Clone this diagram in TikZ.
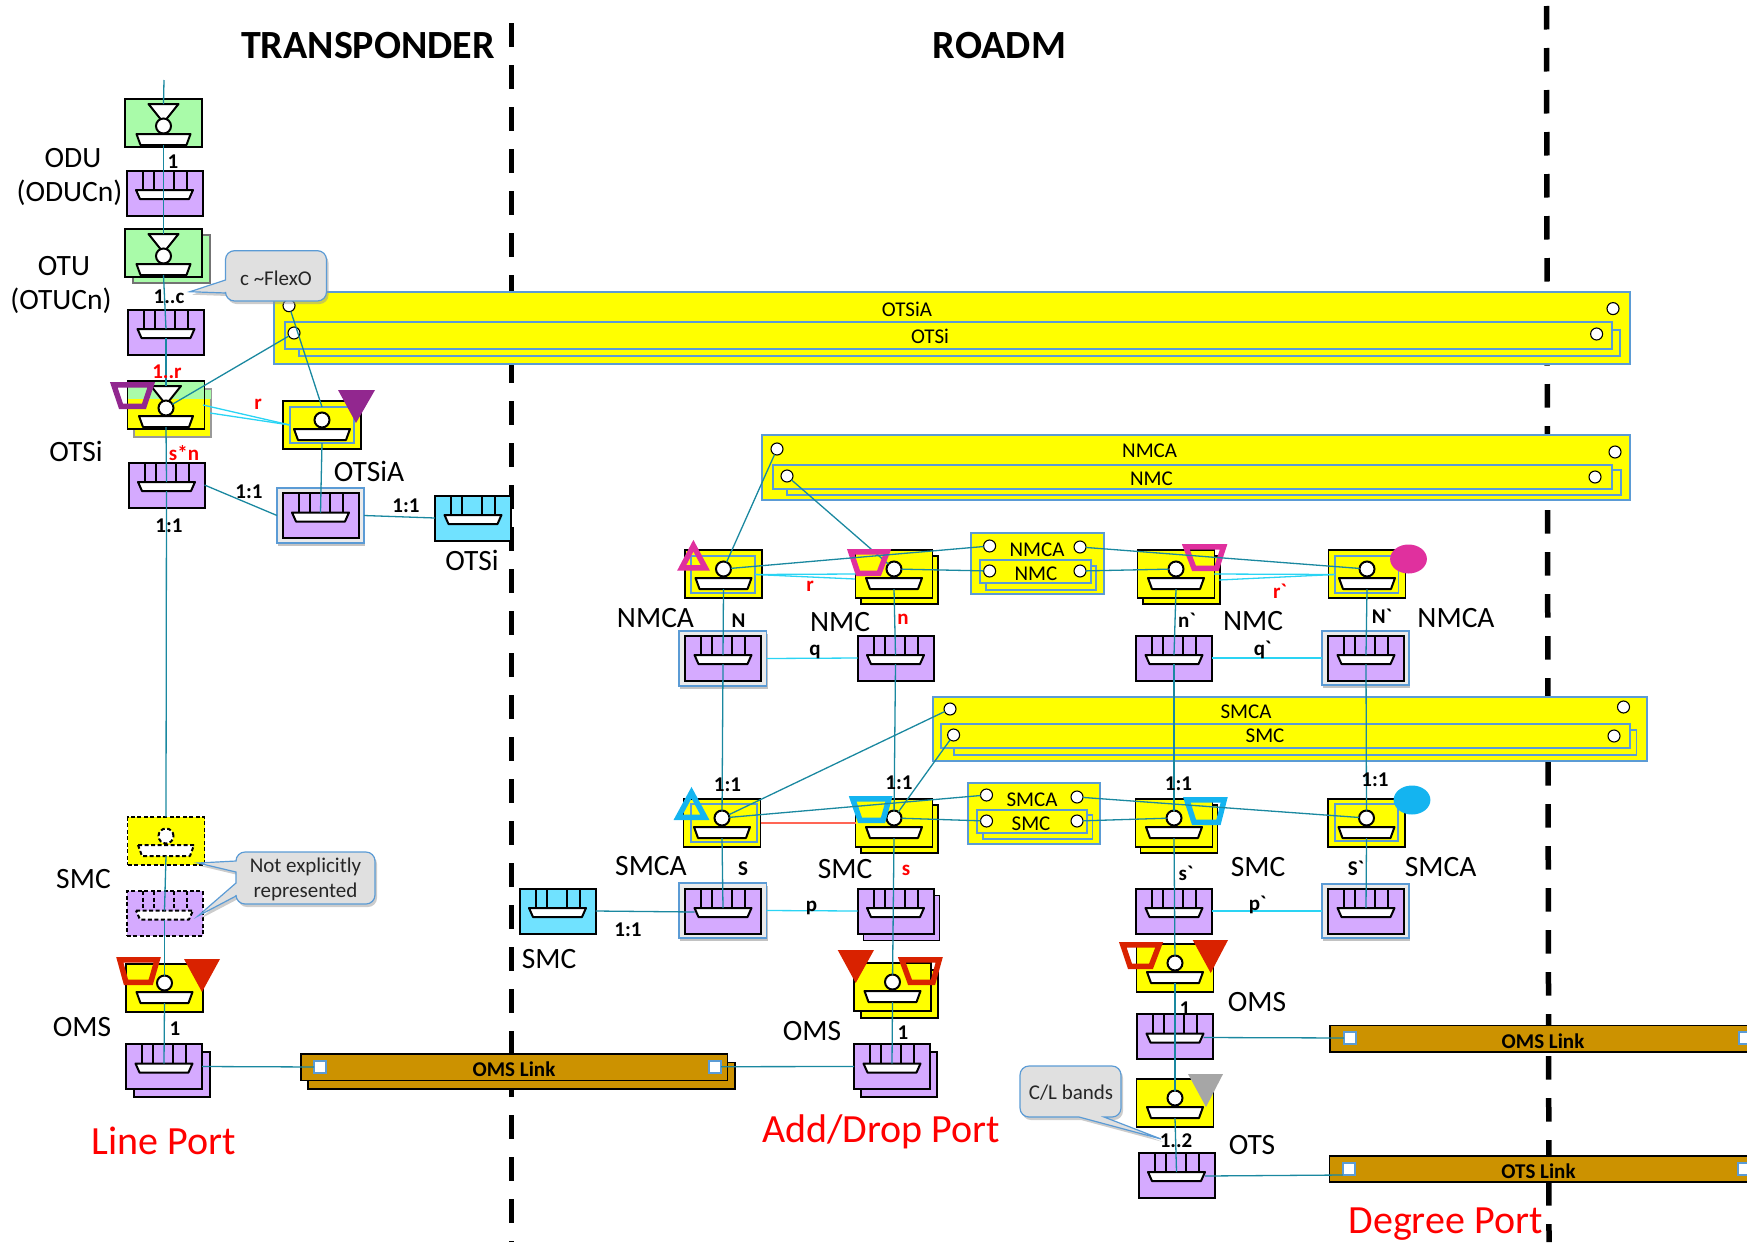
\documentclass[tikz,border=0pt]{standalone}
\usepackage{fontspec}
\setmainfont[Ligatures=TeXOff]{Carlito}
\usetikzlibrary{fit,calc,shadows}
\definecolor{grn}{HTML}{A9FBA9}
\definecolor{yel}{HTML}{FFFF00}
\definecolor{pur}{HTML}{D5AAFF}
\definecolor{cya}{HTML}{70E2FF}
\definecolor{blu}{HTML}{5B9BD5}
\definecolor{tealc}{HTML}{1A88A0}
\definecolor{cyl}{HTML}{2AD4F4}
\definecolor{mag}{HTML}{E0309E}
\definecolor{cym}{HTML}{14B4F0}
\definecolor{mkred}{HTML}{D92200}
\definecolor{ppl}{HTML}{92278F}
\definecolor{gld}{HTML}{CC9200}
\definecolor{gry}{HTML}{A6A6A6}
\definecolor{salm}{HTML}{FF6655}
\tikzset{
 tbox/.style={draw=black,line width=1.5pt,minimum width=77pt,minimum height=48pt,inner sep=0pt,outer sep=0pt},
 cbox/.style={draw=black,line width=2pt,minimum width=76pt,minimum height=45pt,inner sep=0pt,outer sep=0pt},
 tpart/.style={draw=black,fill=white,line width=2pt,line join=round},
 tcirc/.style={circle,draw=black,fill=white,line width=2pt,minimum size=15pt,inner sep=0pt,outer sep=0pt},
 dashpart/.style={dash pattern=on 4pt off 2.5pt},
 bar/.style={draw=blu,fill=yel,line width=1.8pt},
 inr/.style={draw=blu,line width=1.8pt},
 frame/.style={draw=blu,fill=black!8,line width=1.8pt,drop shadow={shadow xshift=1pt,shadow yshift=-3pt,fill=black!40,opacity=.6}},
 bc/.style={circle,draw=black,fill=white,line width=1.1pt,minimum size=12pt,inner sep=0pt,outer sep=0pt},
 sq/.style={rectangle,draw=blu,fill=white,line width=1.6pt,minimum size=12pt,inner sep=0pt,outer sep=0pt},
 tl/.style={draw=tealc,line width=1.3pt},
 cl/.style={draw=cyl,line width=1.3pt},
 bigdash/.style={draw=black,line width=5.5pt,dash pattern=on 23.5pt off 18.5pt},
 lab/.style={inner sep=0pt,yshift=-2pt,font=\fontsize{29.5}{32}\selectfont},
 small/.style={inner sep=0pt,yshift=-1.5pt,font=\bfseries\fontsize{21}{23}\selectfont},
 smallr/.style={small,text=red},
 bart/.style={inner sep=0pt,yshift=-1pt,font=\fontsize{21}{23}\selectfont},
 head/.style={inner sep=0pt,font=\bfseries\fontsize{40}{44}\selectfont},
 port/.style={inner sep=0pt,text=red,font=\fontsize{40}{44}\selectfont},
 linkt/.style={inner sep=0pt,font=\bfseries\fontsize{21}{23}\selectfont},
 callout/.style={draw=blu,fill=black!12,line width=1.2pt,drop shadow={shadow xshift=2pt,shadow yshift=-3pt,fill=black!40,opacity=.5}},
 callt/.style={inner sep=0pt,align=center,text=black!85,font=\fontsize{21}{25}\selectfont},
}
\newcommand{\RECT}[6]{\node[inner sep=0pt,outer sep=0pt,fit={(#2,#3)(#4,#5)},#6] (#1) {};}
% termination point, plain
\newcommand{\TTPin}[4][]{\begin{scope}[shift={(#3,#4)}]
 \draw[tpart,#1] (-28,4)--(28,4)--(24,15)--(-24,15)--cycle;
 \node[tcirc,#1] (#2-c) at (0,-5) {};
 \coordinate (#2-u) at (0,15);
\end{scope}}
\newcommand{\TTP}[5][]{\node[tbox,fill=#5,#1] (#2) at (#3,#4) {};\TTPin[#1]{#2}{#3}{#4}}
% termination point with adaptation triangle
\newcommand{\TTPTin}[3]{\begin{scope}[shift={(#2,#3)}]
 \draw[tpart] (-15,-19)--(15,-19)--(3,-4)--(-3,-4)--cycle;
 \draw[tpart] (-27,11)--(27,11)--(23,22)--(-23,22)--cycle;
 \node[tcirc] (#1-c) at (0,3) {};
 \coordinate (#1-a) at (0,-19);
 \coordinate (#1-u) at (0,22);
\end{scope}}
\newcommand{\TTPT}[4]{\node[tbox,fill=#4] (#1) at (#2,#3) {};\TTPTin{#1}{#2}{#3}}
% connection point block
\newcommand{\CTP}[5][]{\node[cbox,fill=#5,#1] (#2) at (#3,#4) {};
 \begin{scope}[shift={(#3,#4)}]
 \foreach \s in {-22,-11,9,22}{\draw[black,line width=2pt,#1] (\s,-22.5)--(\s,-3);}
 \draw[tpart,#1] (-28.5,-3)--(28.5,-3)--(24.5,6)--(-24.5,6)--cycle;
 \coordinate (#2-t) at (0,-3);
 \coordinate (#2-u) at (0,6);
 \coordinate (#2-l) at (-28.5,1);
 \coordinate (#2-r) at (28.5,1);
 \end{scope}}
\newcommand{\BK}[7][black]{\node[draw=#1,line width=1.4pt,fill=#7,minimum width=#5pt,minimum height=#6pt,inner sep=0pt,outer sep=0pt] (#2) at (#3,#4) {};}
\newcommand{\MTRAP}[7]{\draw[draw=#7,line width=5.5pt,miter limit=10] ({#1+3.8},{#3+2.75})--({#2-3.8},{#3+2.75})--({#5-2},{#6-2.75})--({#4+2},{#6-2.75})--cycle;}
\newcommand{\MTRI}[6]{\draw[draw=#6,line width=5.5pt,miter limit=10] (#1,{#2+5.7})--({#4-4.65},{#5-2.75})--({#3+4.65},{#5-2.75})--cycle;}
\newcommand{\FTRI}[6]{\fill[#6] (#3,#5)--(#4,#5)--(#1,#2)--cycle;}
\begin{document}
\begin{tikzpicture}[x=1pt,y=-1pt]
\path[use as bounding box] (0,0) rectangle (1747,1242);
\clip (0,0) rectangle (1747,1242);
% frontier lines
\coordinate (da) at (511.5,23.3);\coordinate (db) at (511.5,1242);
\coordinate (dc) at (1546.5,6);\coordinate (dd) at (1549,1242);
\draw[bigdash] (da)--(db);
\draw[bigdash] (dc)--(dd);
% big bars
\RECT{otsiaBar}{274}{292}{1630}{364}{bar}
\RECT{otsiS}{299}{330}{1620}{356}{bar}
\RECT{otsiBar}{285}{322}{1612}{349}{bar}
\node[bc] (oa1) at (289,305.7) {};
\node[bc] (oi1) at (294,333) {};
\node[bc] (oa2) at (1613,308.6) {};
\node[bc] (oi2) at (1596.6,334) {};
\node[bart] (toa) at (907,308) {OTSiA};
\node[bart] (toi) at (930,335) {OTSi};
\RECT{nmcaBar}{762}{435}{1630}{500}{bar}
\RECT{nmcS}{787}{470}{1621}{495}{bar}
\RECT{nmcBar}{773}{465}{1612}{489}{bar}
\node[bc] (na1) at (777,449) {};
\node[bc] (ni1) at (787,476) {};
\node[bc] (na2) at (1615,452) {};
\node[bc] (ni2) at (1595,477) {};
\node[bart] (tna) at (1149.6,450) {NMCA};
\node[bart] (tni) at (1151.5,478) {NMC};
\RECT{smcaBar}{933}{697}{1647}{761}{bar}
\RECT{smcS}{954}{730}{1636.5}{755}{bar}
\RECT{smcBar}{941}{724}{1630}{748}{bar}
\node[bc] (sa1) at (950,709) {};
\node[bc] (si1) at (953.6,735) {};
\node[bc] (sa2) at (1623.5,707) {};
\node[bc] (si2) at (1614,736) {};
\node[bart] (tsa) at (1246,711) {SMCA};
\node[bart] (tsi) at (1265,735) {SMC};
% small bars
\RECT{nSm}{971}{533}{1103.6}{594}{bar}
\RECT{nSmS}{985.8}{566}{1096}{590}{bar}
\RECT{nSmI}{979.6}{560}{1090.6}{583}{bar}
\node[bc] (nsa1) at (989.6,546) {};
\node[bc] (nsa2) at (1080,547) {};
\node[bc] (nsi1) at (989.6,571) {};
\node[bc] (nsi2) at (1080,571) {};
\node[bart] (tnsa) at (1037,549) {NMCA};
\node[bart] (tnsi) at (1036,573) {NMC};
\RECT{sSm}{968}{783}{1100}{844}{bar}
\RECT{sSmS}{982.7}{815}{1092.5}{839}{bar}
\RECT{sSmI}{977}{810}{1087}{833}{bar}
\node[bc] (ssa1) at (986.5,795) {};
\node[bc] (ssa2) at (1077,797) {};
\node[bc] (ssi1) at (986.5,821) {};
\node[bc] (ssi2) at (1077,821) {};
\node[bart] (tssa) at (1032,799) {SMCA};
\node[bart] (tssi) at (1031,823) {SMC};
% OMS / OTS links
\RECT{lkAs}{308}{1062.7}{735}{1089}{draw=black,fill=gld,line width=1.4pt}
\RECT{lkA}{301}{1054}{727.7}{1080.5}{draw=black,fill=gld,line width=1.4pt}
\node[sq] (sqA1) at (320,1067) {};
\node[sq] (sqA2) at (715,1066.7) {};
\node[linkt] (tlkA) at (514,1069) {OMS Link};
\RECT{lkB}{1330}{1025.7}{1760}{1052}{draw=black,fill=gld,line width=1.4pt}
\node[sq] (sqB1) at (1350,1038) {};
\node[sq] (sqB2) at (1745,1038) {};
\node[linkt] (tlkB) at (1543,1041) {OMS Link};
\RECT{lkC}{1329.5}{1156}{1760}{1182}{draw=black,fill=gld,line width=1.4pt}
\node[sq] (sqC1) at (1349,1169) {};
\node[sq] (sqC2) at (1744,1169) {};
\node[linkt] (tlkC) at (1538.5,1171) {OTS Link};
% transponder column
\TTPT{odu}{163.5}{123}{grn}
\CTP{oduC}{164.5}{193}{pur}
\BK[black!55]{otuS}{171.5}{259}{77}{48}{grn}
\TTPT{otu}{163.5}{253}{grn}
\CTP{otuC}{166}{332}{pur}
\BK[black!40]{otsS}{172.5}{413}{77}{48}{yel}
\RECT{otsSg}{134.5}{389.5}{210.5}{399}{fill=grn}
\node[tbox,fill=yel] (ots) at (166,405) {};
\RECT{otsG}{128.2}{381.7}{203.8}{399}{fill=grn}
\TTPTin{ots}{166}{405}
\CTP{otsC}{166.5}{485}{pur}
\node[tbox,fill=yel,minimum width=78pt] (oA) at (322,425) {};
\RECT{oAi}{290}{407}{354}{443}{inr}
\TTPin{oA}{322}{425}
\RECT{oAf}{277}{488}{364}{543}{frame}
\CTP{oAC}{320.5}{515.5}{pur}
\CTP{oCy}{473}{518}{cya}
\TTP[dashpart]{dT}{166}{841}{yel}
\CTP[dashpart]{dC}{164.5}{913.5}{pur}
\TTP{omsL}{164.5}{988}{yel}
\BK{omsLS}{172}{1074.5}{76}{45}{pur}
\CTP{omsLC}{164}{1066.5}{pur}
% NMC row
\TTP{nA}{723.5}{574}{yel}
\RECT{nAi}{691}{556}{755}{593}{inr}
\BK{nBS}{899.4}{580}{77}{48}{yel}
\TTP{nB}{894}{574}{yel}
\BK{nCS}{1181.4}{580}{77}{48}{yel}
\TTP{nC}{1176}{574}{yel}
\TTP{nD}{1367}{574}{yel}
\RECT{nDi}{1335}{556}{1398.5}{593}{inr}
\RECT{cAf}{679}{631}{766.5}{686}{frame}
\CTP{cA}{723}{658}{pur}
\CTP{cB}{895.5}{658}{pur}
\CTP{cC}{1174}{658}{pur}
\RECT{cDf}{1322}{631}{1409}{685}{frame}
\CTP{cD}{1366}{658}{pur}
% SMC row
\TTP{sA}{722}{823}{yel}
\RECT{sAi}{690.7}{804}{757}{842}{inr}
\BK{sBS}{899.4}{829}{77}{48}{yel}
\TTP{sB}{894}{823}{yel}
\BK{sCS}{1179}{829}{77}{48}{yel}
\TTP{sC}{1174}{823}{yel}
\TTP{sD}{1366.5}{823}{yel}
\RECT{sDi}{1334.6}{804}{1397.7}{841}{inr}
\RECT{eAf}{679}{883}{766.5}{938}{frame}
\CTP{eA}{723}{911}{pur}
\BK{eBS}{901.5}{918}{76}{45}{pur}
\CTP{eB}{895.5}{911}{pur}
\CTP{eC}{1174}{911}{pur}
\RECT{eDf}{1322}{884}{1409}{938}{frame}
\CTP{eD}{1366}{911}{pur}
\CTP{eCy}{557.5}{911}{cya}
% OMS add/drop and degree
\BK{omsAS}{899.5}{994}{77}{48}{yel}
\TTP{omsA}{892.5}{987}{yel}
\BK{omsACS}{899}{1074.5}{76}{45}{pur}
\CTP{omsAC}{892}{1066.5}{pur}
\TTP{omsD}{1175}{968}{yel}
\CTP{omsDC}{1175}{1036.5}{pur}
\TTP{otsD}{1175}{1103}{yel}
\CTP{otsDC}{1176.5}{1175}{pur}
% connectors under the markers
\draw[tl] (ni1)--(nB-c);
\draw[tl] (oa1)--(oAi.north);
% markers
\MTRAP{110}{155}{382}{119}{146}{409}{ppl}
\FTRI{356}{423}{338}{375}{390}{ppl}
\MTRI{693.4}{540}{677}{710}{570.7}{mag}
\MTRAP{847}{891}{549}{856}{881}{576}{mag}
\MTRAP{1182}{1227.4}{544}{1192}{1218.6}{571}{mag}
\fill[mag] (1408.5,559) ellipse (18.4 and 14.5);
\MTRI{691.5}{787}{673.5}{709.5}{820}{cym}
\MTRAP{848.8}{892.8}{796}{858}{885}{823}{cym}
\MTRAP{1183}{1228}{797}{1192}{1220.5}{825}{cym}
\fill[cym] (1412,800) ellipse (18.4 and 14.5);
\MTRAP{116}{161}{957}{124}{152.7}{985}{mkred}
\FTRI{202}{992}{184}{220}{959}{mkred}
\MTRAP{898}{943}{957}{908}{935}{985}{mkred}
\FTRI{855.7}{983}{837.7}{874}{950}{mkred}
\MTRAP{1119}{1163}{942}{1128}{1153}{969}{mkred}
\FTRI{1210.7}{973}{1192.7}{1228}{940}{mkred}
\FTRI{1206}{1107}{1188}{1223}{1074}{gry}
% connectors: transponder
\coordinate (top) at (164,80);
\draw[tl] (top)--(odu-a);
\draw[tl] (odu-u)--(otu-a);
\draw[tl] (otu-u)--(otuC-t);
\draw[tl] (otuC-u)--(ots-a);
\draw[tl] (ots-u)--(otsC-t);
\draw[tl] (otsC-u)--(dT.north);
\draw[tl] (dT-u)--(dC-t);
\draw[tl] (dC-u)--(omsL-c);
\draw[tl] (omsL-u)--(omsLC-t);
\draw[tl] (ots-c)--(oi1);
\draw[tl] (oAi.south)--(oAC-t);
\draw[tl] (otsC.east)--(oAf.west);
\draw[tl] (oAf.east)--(oCy.west);
\coordinate (cy1a) at (203,405);\coordinate (cy1b) at (210,413);
\draw[cl] (cy1a)--(oAi.west);
\draw[cl] (cy1b)--(oAi.west);
\draw[tl] (omsLC.east)--(sqA1);
\draw[tl] (omsAC.west)--(sqA2);
% connectors: ROADM
\draw[tl] (nA-c)--(na1);
\draw[tl] (nA-c)--(nsa1);
\draw[tl] (nB-c)--(nsi1);
\draw[tl] (nsa2)--(nD-c);
\draw[tl] (nsi2)--(nC-c);
\draw[tl] (sA-c)--(sa1);
\draw[tl] (sB-c)--(si1);
\draw[tl] (sA-c)--(ssa1);
\draw[tl] (sB-c)--(ssi1);
\draw[tl] (ssa2)--(sD-c);
\draw[tl] (ssi2)--(sC-c);
\draw[salm,line width=1.6pt] (sA.east)--(sB.west);
\coordinate (nr1) at (855.6,574);\coordinate (nr2) at (855,579);
\draw[cl] (nAi.east)--(nr1);
\draw[cl] (nAi.east)--(nr2);
\coordinate (rr1) at (1214,574);\coordinate (rr2) at (1219,580);
\draw[cl] (rr1)--(nDi.west);
\draw[cl] (rr2)--(nDi.west);
\draw[cl] (cAf.east)--(cB.west);
\draw[cl] (cC.east)--(cDf.west);
\draw[cl] (eAf.east)--(eB.west);
\draw[cl] (eC.east)--(eDf.west);
\draw[tl] (nA-u)--(cA-t);
\draw[tl] (cA-u)--(sA-c);
\draw[tl] (nB-u)--(cB-t);
\draw[tl] (cB-u)--(sB-c);
\draw[tl] (nC-u)--(cC-t);
\draw[tl] (cC-u)--(sC-c);
\draw[tl] (nD-u)--(cD-t);
\draw[tl] (cD-u)--(sD-c);
\draw[tl] (sA-u)--(eA-t);
\draw[tl] (sB-u)--(omsA-c);
\draw[tl] (sC-u)--(omsD-c);
\draw[tl] (sD-u)--(eD-t);
\draw[tl] (eCy.east)--(eA-l);
\draw[tl] (omsA-u)--(omsAC-t);
\draw[tl] (omsD-u)--(otsD-c);
\draw[tl] (otsD-u)--(otsDC-t);
\draw[tl] (omsDC-r)--(sqB1);
\draw[tl] (otsDC-r)--(sqC1.south west);
% labels
\node[head] (tTr) at (368,46) {TRANSPONDER};
\node[head] (tRo) at (999.5,46) {ROADM};
\node[lab] (l1) at (73,156) {ODU};
\node[lab] (l2) at (69.5,190.5) {(ODUCn)};
\node[lab] (l3) at (64,264) {OTU};
\node[lab] (l4) at (61,299) {(OTUCn)};
\node[lab] (l5) at (76,449) {OTSi};
\node[lab] (l6) at (369,469) {OTSiA};
\node[lab] (l7) at (472,558) {OTSi};
\node[lab] (l8) at (83.5,877) {SMC};
\node[lab] (l9) at (82,1025) {OMS};
\node[lab] (l10) at (655.5,616) {NMCA};
\node[lab] (l11) at (840,620) {NMC};
\node[lab] (l12) at (1253,619) {NMC};
\node[lab] (l13) at (1456,616) {NMCA};
\node[lab] (l14) at (651,864) {SMCA};
\node[lab] (l15) at (845,867) {SMC};
\node[lab] (l16) at (1258,865) {SMC};
\node[lab] (l17) at (1440.6,865) {SMCA};
\node[lab] (l18) at (549,957) {SMC};
\node[lab] (l19) at (812,1029) {OMS};
\node[lab] (l20) at (1257,1000) {OMS};
\node[lab] (l21) at (1252,1143) {OTS};
\node[port] (p1) at (164,1141) {Line Port};
\node[port] (p2) at (881,1132) {Add/Drop Port};
\node[port] (p3) at (1445.5,1224) {Degree Port};
\node[small] (m1) at (173,160) {1};
\node[small] (m2) at (169,295) {1..c};
\node[smallr] (m3) at (167,370) {1..r};
\node[smallr] (m4) at (258,403) {r};
\node[smallr] (m5) at (184,452) {s*n};
\node[small] (m6) at (249,490) {1:1};
\node[small] (m7) at (406,504) {1:1};
\node[small] (m8) at (169,524) {1:1};
\node[small] (m9) at (175,1027) {1};
\node[small] (m10) at (738.5,619) {N};
\node[smallr] (m11) at (903,618) {n};
\node[smallr] (m12) at (810,585) {r};
\node[small] (m13) at (815,650) {q};
\node[small] (m14) at (727.4,783) {1:1};
\node[small] (m15) at (899,781) {1:1};
\node[small] (m16) at (743,867) {S};
\node[smallr] (m17) at (906,869) {s};
\node[small] (m18) at (811.6,906) {p};
\node[small] (m19) at (628,928) {1:1};
\node[small] (m20) at (1187,619) {n`};
\node[small] (m21) at (1382,615) {N`};
\node[smallr] (m22) at (1280,590) {r`};
\node[small] (m23) at (1262.6,648) {q`};
\node[small] (m24) at (1178.5,782) {1:1};
\node[small] (m25) at (1375,778) {1:1};
\node[small] (m26) at (1186,872) {s`};
\node[small] (m27) at (1356,867) {S`};
\node[small] (m28) at (1257.7,903) {p`};
\node[small] (m29) at (1185,1007) {1};
\node[small] (m30) at (903,1031) {1};
% callouts
\draw[callout] [rounded corners=9pt] (225.5,280)--(225.5,250.7)--(326.5,250.7)--(326.5,301)--(225.5,301)[sharp corners]--(225.5,293)--(190,291.7)--cycle;
\node[callt] (k1) at (276,278) {c \textasciitilde FlexO};
\draw[callout] [rounded corners=9pt] (236,861)--(236,852)--(375,852)--(375,904)--(236,904)[sharp corners]--(236,896)--(198,916)--(236,883)--(236,872)--(198,863)--cycle;
\node[callt] (k2) at (305.5,879.5) {Not explicitly\\represented};
\draw[callout] [rounded corners=9pt] (1079,1117)--(1020,1117)--(1020,1066)--(1121,1066)--(1121,1117)[sharp corners]--(1104,1117)--(1161,1139)--cycle;
\node[callt] (k3) at (1071,1093) {C/L bands};
\node[small] (m31) at (1176,1139) {1..2};
\end{tikzpicture}
\end{document}
